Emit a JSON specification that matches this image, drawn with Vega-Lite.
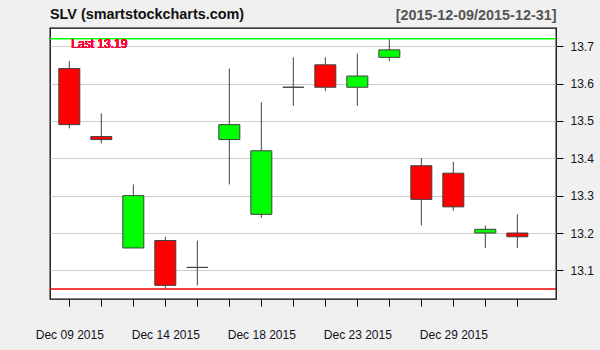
{
  "$schema": "https://vega.github.io/schema/vega-lite/v6.json",
  "width": 506,
  "height": 271,
  "autosize": "none",
  "padding": {"left": 50, "top": 28, "right": 44, "bottom": 51},
  "background": "#F0F0F0",
  "config": {
    "view": {"fill": "white", "stroke": "black", "strokeWidth": 1.3},
    "font": "Liberation Sans"
  },
  "title": {
    "text": "SLV (smartstockcharts.com)",
    "anchor": "start",
    "frame": "group",
    "font": "Liberation Sans",
    "fontSize": 14.4,
    "fontWeight": "bold",
    "color": "#111111",
    "offset": -15
  },
  "data": {
    "values": [
      {"date": "2015-12-09", "open": 13.64, "high": 13.66, "low": 13.48, "close": 13.49},
      {"date": "2015-12-10", "open": 13.458, "high": 13.52, "low": 13.44, "close": 13.45},
      {"date": "2015-12-11", "open": 13.16, "high": 13.33, "low": 13.16, "close": 13.30},
      {"date": "2015-12-14", "open": 13.18, "high": 13.19, "low": 13.05, "close": 13.06},
      {"date": "2015-12-15", "open": 13.108, "high": 13.18, "low": 13.06, "close": 13.108},
      {"date": "2015-12-16", "open": 13.45, "high": 13.64, "low": 13.33, "close": 13.49},
      {"date": "2015-12-18", "open": 13.25, "high": 13.55, "low": 13.24, "close": 13.42},
      {"date": "2015-12-21", "open": 13.59, "high": 13.67, "low": 13.54, "close": 13.59},
      {"date": "2015-12-22", "open": 13.65, "high": 13.67, "low": 13.58, "close": 13.59},
      {"date": "2015-12-23", "open": 13.59, "high": 13.68, "low": 13.54, "close": 13.62},
      {"date": "2015-12-24", "open": 13.67, "high": 13.72, "low": 13.66, "close": 13.69},
      {"date": "2015-12-28", "open": 13.38, "high": 13.40, "low": 13.22, "close": 13.29},
      {"date": "2015-12-29", "open": 13.36, "high": 13.39, "low": 13.26, "close": 13.27},
      {"date": "2015-12-30", "open": 13.20, "high": 13.22, "low": 13.16, "close": 13.21},
      {"date": "2015-12-31", "open": 13.20, "high": 13.25, "low": 13.16, "close": 13.19}
    ]
  },
  "encoding": {
    "x": {
      "field": "date",
      "type": "nominal",
      "sort": null,
      "scale": {"type": "point", "padding": 0.906, "align": 0.333},
      "axis": {
        "title": null,
        "domain": false,
        "grid": false,
        "tickColor": "black",
        "tickSize": 7,
        "tickWidth": 1,
        "labelAngle": 0,
        "labelPadding": 23,
        "labelFontSize": 12,
        "labelColor": "#111122",
        "labelFont": "Liberation Sans",
        "labelExpr": "indexof(['2015-12-09','2015-12-14','2015-12-18','2015-12-23','2015-12-29'], datum.value) >= 0 ? utcFormat(toDate(datum.value), '%b %d %Y') : ''"
      }
    }
  },
  "layer": [
    {
      "mark": {"type": "rule", "color": "#404040", "strokeWidth": 1},
      "encoding": {
        "y": {
          "field": "low",
          "type": "quantitative",
          "scale": {"domain": [13.0235, 13.7485], "nice": false, "zero": false},
          "axis": {
            "orient": "right",
            "values": [13.1, 13.2, 13.3, 13.4, 13.5, 13.6, 13.7],
            "format": ".1f",
            "domain": false,
            "grid": true,
            "gridColor": "#CCCCCC",
            "gridWidth": 1,
            "tickColor": "black",
            "tickSize": 7,
            "labelPadding": 7,
            "labelFontSize": 12,
            "labelColor": "#111122",
            "labelFont": "Liberation Sans",
            "title": "[2015-12-09/2015-12-31]",
            "titleAngle": 0,
            "titleAlign": "right",
            "titleBaseline": "alphabetic",
            "titleX": 0,
            "titleY": -9,
            "titleFont": "Liberation Sans",
            "titleFontSize": 14.4,
            "titleFontWeight": "bold",
            "titleColor": "#555555"
          }
        },
        "y2": {"field": "high"}
      }
    },
    {
      "mark": {"type": "bar", "size": 21, "stroke": "#404040", "strokeWidth": 1},
      "encoding": {
        "y": {"field": "open", "type": "quantitative"},
        "y2": {"field": "close"},
        "fill": {
          "condition": {"test": "datum.close >= datum.open", "value": "#00FF00"},
          "value": "#FF0000"
        }
      }
    },
    {
      "mark": {"type": "rule", "color": "#00FF00", "strokeWidth": 1.5},
      "encoding": {
        "x": null,
        "y": {"aggregate": "max", "field": "high", "type": "quantitative"}
      }
    },
    {
      "mark": {"type": "rule", "color": "#EE0000", "strokeWidth": 1.5},
      "encoding": {
        "x": null,
        "y": {"aggregate": "min", "field": "low", "type": "quantitative"}
      }
    },
    {
      "mark": {"type": "text", "color": "#FF0033", "fontSize": 12, "font": "Liberation Sans", "fontWeight": "normal", "align": "left", "baseline": "middle", "dx": 2},
      "encoding": {
        "x": {"datum": "2015-12-09", "type": "nominal"},
        "y": {"datum": 13.707, "type": "quantitative"},
        "text": {"value": "Last 13.19"}
      }
    }
  ]
}
